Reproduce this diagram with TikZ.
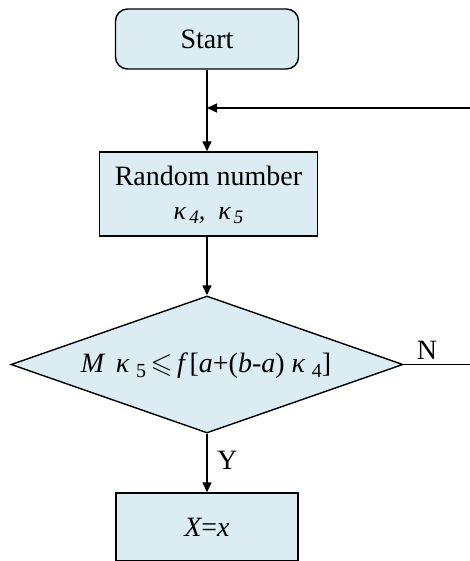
\documentclass[tikz,border=0pt]{standalone}
\usepackage{amssymb}
\usepackage{fontspec}
\setmainfont{Liberation Serif}
\usetikzlibrary{arrows.meta,shapes.geometric}
\definecolor{boxfill}{RGB}{219,237,243}
\newcommand{\subn}[1]{\raisebox{-0.35ex}{\upshape\fontsize{20}{22}\selectfont\,\,#1}}
\newcommand{\subi}[1]{\raisebox{-0.35ex}{\itshape\fontsize{19}{22}\selectfont\,#1}}
\begin{document}
\begin{tikzpicture}[x=1pt,y=-1pt,
  every node/.style={font=\fontsize{28}{32}\selectfont},
  box/.style={draw=black,line width=1.4pt,fill=boxfill,inner sep=0pt},
  conn/.style={line width=1.4pt,-{Triangle[length=10pt,width=9pt]}},
  plain/.style={line width=1.4pt}]
\useasboundingbox (0,0) rectangle (470,561);
\node[box,rounded corners=12pt,minimum width=183pt,minimum height=60pt] (start) at (207,39) {Start};
\node[box,minimum width=218pt,minimum height=84pt] (rand) at (208.5,194) {};
\node (randt1) at (208.5,176) {Random number};
\node (randt2) at (208.5,216) {\itshape\fontsize{26}{30}\selectfont κ\subi{4}, \ κ\subi{5}};
\node[box,diamond,aspect=2.87,minimum width=392pt,minimum height=137pt] (dec) at (207,364.5) {};
\node (dect) at (206,366) {\itshape M\, κ\subn{5}\,$\leqslant$\,f\,\upshape[\itshape a\upshape+(\itshape b\upshape-\itshape a\upshape)\ \itshape κ\subn{4}\upshape]};
\node[box,minimum width=182pt,minimum height=68pt] (res) at (207,527) {\itshape X\upshape=\itshape x};
\coordinate (join) at (207,108);
\coordinate (rightin) at (470,108);
\coordinate (nout) at (470,364.5);
\draw[plain] (start.south) -- (join);
\draw[conn] (join) -- (rand.north -| join);
\draw[conn] (rightin) -- (join);
\draw[conn] (rand.south -| dec.north) -- (dec.north);
\draw[plain] (dec.east) -- node[above,pos=0.35,yshift=1pt] (nlab) {N} (nout);
\draw[conn] (dec.south) -- node[right,xshift=6pt,yshift=3pt] (ylab) {Y} (res.north);
\end{tikzpicture}
\end{document}
